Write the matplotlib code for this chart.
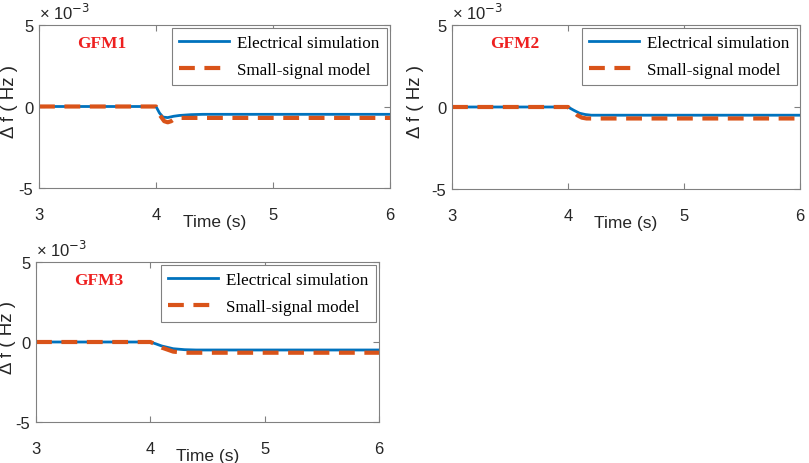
import matplotlib
matplotlib.use("Agg")
import matplotlib.pyplot as plt

plt.rcParams["axes.unicode_minus"] = False

# ---- data (values in units of 1e-3 Hz) ----
panel_names = ["GFM1", "GFM2", "GFM3"]

t_elec_1 = [3.0, 4.0, 4.03, 4.06, 4.10, 4.15, 4.20, 4.30, 4.40, 6.0]
f_elec_1 = [0.0, 0.0, -0.40, -0.65, -0.68, -0.60, -0.55, -0.50, -0.48, -0.48]
t_ss_1 = [3.0, 4.0, 4.03, 4.07, 4.10, 4.13, 4.16, 4.20, 6.0]
f_ss_1 = [0.0, 0.0, -0.50, -0.90, -0.97, -0.90, -0.75, -0.70, -0.70]

t_elec_2 = [3.0, 4.0, 4.05, 4.10, 4.15, 4.20, 4.30, 6.0]
f_elec_2 = [0.0, 0.0, -0.20, -0.38, -0.46, -0.50, -0.50, -0.50]
t_ss_2 = [3.0, 4.0, 4.04, 4.08, 4.12, 4.16, 6.0]
f_ss_2 = [0.0, 0.0, -0.25, -0.50, -0.65, -0.70, -0.70]

t_elec_3 = [3.0, 4.0, 4.05, 4.10, 4.20, 4.30, 4.40, 6.0]
f_elec_3 = [0.0, 0.0, -0.12, -0.25, -0.42, -0.48, -0.50, -0.50]
t_ss_3 = [3.0, 4.0, 4.05, 4.10, 4.20, 4.30, 6.0]
f_ss_3 = [0.0, 0.0, -0.15, -0.35, -0.60, -0.67, -0.67]

x_ticks = [3, 4, 5, 6]
y_ticks = [-5, 0, 5]

series = [
    (t_elec_1, f_elec_1, t_ss_1, f_ss_1),
    (t_elec_2, f_elec_2, t_ss_2, f_ss_2),
    (t_elec_3, f_elec_3, t_ss_3, f_ss_3),
]

W, H = 809, 464
fig = plt.figure(figsize=(W / 100, H / 100), dpi=100)

# pixel boxes: left, top, right, bottom
boxes = [(39, 26, 390, 189), (452, 26, 800, 190), (36, 263, 379, 423)]
ylabel_x = [9, 416, 8]

blue = "#0072BD"
orange = "#D95319"
axcol = "#808080"
txtcol = "#262626"

for name, (te, fe, ts, fs), (l, t, r, b), yx in zip(panel_names, series, boxes, ylabel_x):
    ax = fig.add_axes([l / W, 1 - b / H, (r - l) / W, (b - t) / H])
    ax.plot(te, fe, color=blue, lw=2.0, label="Electrical simulation")
    ax.plot(ts, fs, color=orange, lw=3.0, dashes=(3.8, 2.3), label="Small-signal model")
    ax.set_xlim(3, 6)
    ax.set_ylim(-5, 5)
    ax.set_xticks(x_ticks)
    ax.set_yticks(y_ticks)
    ax.tick_params(direction="in", length=4, color=axcol, labelcolor=txtcol,
                   labelsize=12, labelfontfamily="Liberation Sans")
    ax.tick_params(axis="x", pad=14)
    ax.tick_params(axis="y", pad=4)
    ax.tick_params(top=True, right=True)
    for s in ax.spines.values():
        s.set_color(axcol)
        s.set_linewidth(0.8)
    ax.set_xlabel("Time (s)", fontsize=12.5, family="Liberation Sans", color=txtcol, labelpad=-6)
    fig.text(yx / W, 1 - ((t + b) / 2 - 6) / H, "Δ f ( Hz )", rotation=90, fontsize=13.5,
             family="Liberation Sans", color=txtcol, ha="center", va="center")
    ax.text(0.0, 1.02, "× 10$^{-3}$", transform=ax.transAxes, fontsize=12,
            family="Liberation Sans", color=txtcol, ha="left", va="bottom",
            math_fontfamily="dejavusans")
    ax.text(0.11, 0.89, name, transform=ax.transAxes, fontsize=12.5,
            family="Liberation Serif", weight="bold", color="#EE2020",
            ha="left", va="center")
    leg = ax.legend(loc="upper right", prop={"family": "Liberation Serif", "size": 12.3},
                    handlelength=2.9, labelspacing=0.6, borderaxespad=0.15,
                    fancybox=False, framealpha=1, edgecolor=axcol,
                    handletextpad=0.5, borderpad=0.45)
    leg.get_frame().set_linewidth(0.8)

fig.savefig("out.png", dpi=100)
